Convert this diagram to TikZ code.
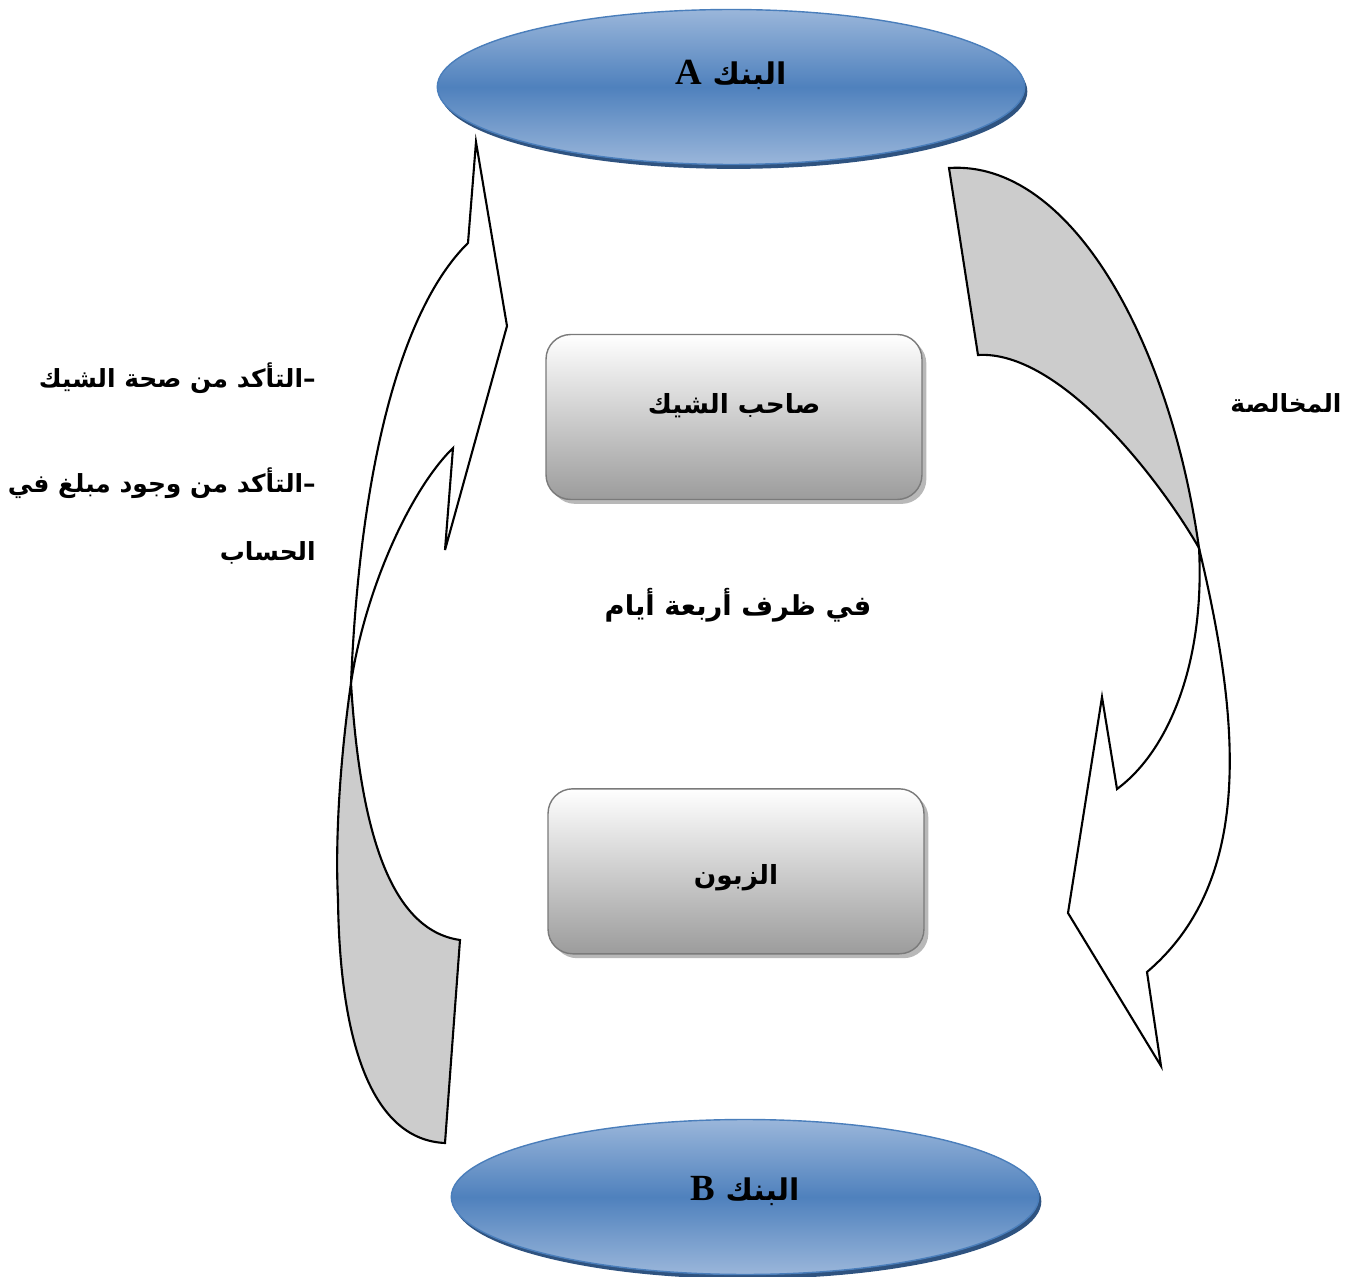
\documentclass[tikz,border=0pt]{standalone}
\usepackage{fontspec}
\usepackage{xcolor}
\usepackage{tikz}
\usetikzlibrary{
    shapes.geometric,
    positioning,
    shadows
}
\TeXXeTstate=1
\newfontfamily\arabicfont[Script=Arabic]{DejaVu Sans}
\newfontfamily\latinfont{Liberation Serif}
\definecolor{bankmid}{HTML}{4F81BD}
\definecolor{banklight}{HTML}{9AB6DA}
\definecolor{bankrim}{HTML}{4A7EBB}
\definecolor{bankshadow}{HTML}{2F5380}
\definecolor{boxlow}{HTML}{9C9C9C}
\definecolor{boxrim}{HTML}{7A7A7A}
\definecolor{foldgray}{HTML}{CCCCCC}
\pgfdeclareverticalshading{bankshade}{100bp}{
    color(0bp)=(banklight); color(25bp)=(banklight);
    color(50bp)=(bankmid);
    color(75bp)=(banklight); color(100bp)=(banklight)}
\tikzset{
  bank/.style = {
      ellipse,
      draw=bankrim,
      thick,
      shading=bankshade,
      minimum width=11.75cm,
      minimum height=3.1cm,
      inner sep=0pt,
      drop shadow={shadow xshift=1.5pt, shadow yshift=-2.5pt, fill=bankshadow, opacity=1}
  },
  bankname/.style = {
      font=\arabicfont\bfseries\fontsize{17}{20}\selectfont
  },
  party/.style = {
      rectangle,
      rounded corners=14pt,
      draw=boxrim,
      thick,
      top color=white,
      bottom color=boxlow,
      minimum width=7.52cm,
      minimum height=3.3cm,
      drop shadow={shadow xshift=2.5pt, shadow yshift=-2.5pt, fill=black!28, opacity=1}
  },
  partyname/.style = {
      font=\arabicfont\bfseries\fontsize{15}{18}\selectfont
  },
  note/.style = {
      font=\arabicfont\bfseries\fontsize{14.2}{17}\selectfont,
      inner sep=0pt
  },
  fold/.style = {
      draw,
      line width=1.2pt,
      fill=foldgray,
      line join=miter
  },
  band/.style = {
      draw,
      line width=1.2pt,
      fill=white,
      line join=miter
  }
}
\newcommand{\bankletter}[1]{{\latinfont\bfseries\fontsize{21}{24}\selectfont #1}}
\begin{document}
\begin{tikzpicture}[x=0.02cm, y=-0.02cm]
    \useasboundingbox (0,0) rectangle (1347,1277);
    % Curved arrows
    \draw[fold] (460,940) -- (445,1143)
        .. controls (375,1140) and (340,1050) .. (338,900)
        .. controls (335,840) and (340,760) .. (351,683)
        .. controls (360,830) and (390,930) .. (460,940) -- cycle;
    \draw[band] (351,683) .. controls (360,470) and (400,310) .. (468,243)
        -- (476,142) -- (507,326) -- (445,550) -- (453,448)
        .. controls (410,490) and (365,590) .. (351,683) -- cycle;
    \draw[fold] (949,168) -- (978,355)
        .. controls (1060,350) and (1160,480) .. (1199,548)
        .. controls (1170,340) and (1070,160) .. (949,168) -- cycle;
    \draw[band] (1199,548) .. controls (1240,720) and (1255,880) .. (1147,972)
        -- (1161,1066) -- (1068,913) -- (1102,697) -- (1117,789)
        .. controls (1170,750) and (1205,660) .. (1199,548) -- cycle;
    % Nodes
    \node[bank, label={[bankname, yshift=0.24cm]center:\beginR البنك \bankletter{A}\endR}] (bankA) at (731,87) {};
    \node[bank, label={[bankname, yshift=0.12cm]center:\beginR البنك \bankletter{B}\endR}] (bankB) at (745,1197) {};
    \node[party, label={[partyname, yshift=0.22cm]center:\beginR صاحب الشيك\endR}] (owner) at (734,417) {};
    \node[party, below=5.76cm of owner, xshift=0.04cm,
          label={[partyname, yshift=-0.12cm]center:\beginR الزبون\endR}] (client) {};
    % Texts
    \node[note, font=\arabicfont\bfseries\fontsize{15.6}{19}\selectfont] (deadline) at (738,605) {\beginR في ظرف أربعة أيام\endR};
    \node[note] (clearing) at (1286,403) {\beginR المخالصة\endR};
    \node[note, anchor=east] (check1) at (316,378) {\beginR –التأكد من صحة الشيك\endR};
    \node[note, anchor=east] (check2) at (316,483) {\beginR –التأكد من وجود مبلغ في\endR};
    \node[note, anchor=east] (check3) at (316,553) {\beginR الحساب\endR};
\end{tikzpicture}
\end{document}
